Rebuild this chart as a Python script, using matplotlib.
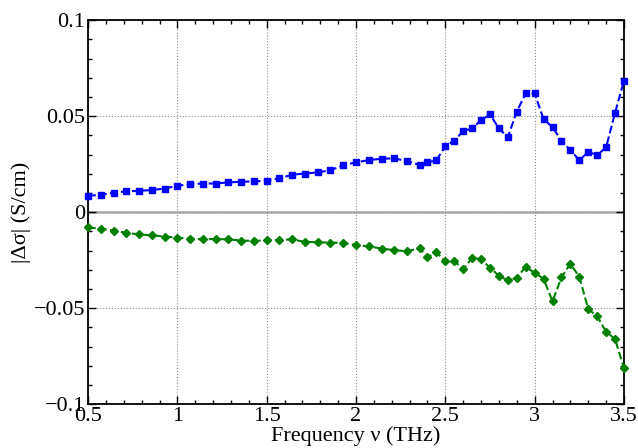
import numpy as np
import matplotlib.pyplot as plt
from matplotlib.ticker import MultipleLocator

# frequency axis (THz): coarse grid up to 2.36, then 0.05 steps
freq = [0.5, 0.571, 0.643, 0.714, 0.786, 0.857, 0.929, 1.0, 1.071, 1.143,
        1.214, 1.286, 1.357, 1.429, 1.5, 1.571, 1.643, 1.714, 1.786, 1.857,
        1.929, 2.0, 2.071, 2.143, 2.214, 2.286, 2.357,
        2.40, 2.45, 2.50, 2.55, 2.60, 2.65, 2.70, 2.75, 2.80, 2.85, 2.90,
        2.95, 3.00, 3.05, 3.10, 3.15, 3.20, 3.25, 3.30, 3.35, 3.40, 3.45, 3.50]

# positive branch (blue squares)
d_pos = [0.0085, 0.0090, 0.0101, 0.0108, 0.0111, 0.0115, 0.0123, 0.0137, 0.0146, 0.0149,
         0.0149, 0.0155, 0.0158, 0.0160, 0.0163, 0.0176, 0.0195, 0.0201, 0.0207, 0.0218,
         0.0245, 0.0259, 0.0271, 0.0278, 0.0280, 0.0266, 0.0245,
         0.0259, 0.0270, 0.0343, 0.0373, 0.0422, 0.0436, 0.0479, 0.0509, 0.0436, 0.0391,
         0.0524, 0.0618, 0.0618, 0.0484, 0.0443, 0.0371, 0.0323, 0.0271, 0.0313, 0.0298,
         0.0337, 0.0517, 0.0684]

# negative branch (green diamonds)
d_neg = [-0.0080, -0.0086, -0.0096, -0.0108, -0.0116, -0.0121, -0.0127, -0.0133, -0.0139, -0.0141,
         -0.0140, -0.0142, -0.0148, -0.0150, -0.0147, -0.0145, -0.0142, -0.0155, -0.0157, -0.0159,
         -0.0160, -0.0172, -0.0178, -0.0190, -0.0198, -0.0204, -0.0188,
         -0.0235, -0.0210, -0.0256, -0.0254, -0.0298, -0.0238, -0.0245, -0.0290, -0.0332, -0.0356,
         -0.0342, -0.0285, -0.0316, -0.0347, -0.0465, -0.0340, -0.0269, -0.0337, -0.0505, -0.0542,
         -0.0623, -0.0661, -0.0813]

plt.rcParams['font.family'] = ['Liberation Serif', 'DejaVu Serif']

fig = plt.figure(figsize=(6.38, 4.48), dpi=100)
ax = fig.add_axes([0.138, 0.098, 0.840, 0.857])

ax.axhline(0, color='#b4b4b4', lw=2, zorder=1)
ax.plot(freq, d_pos, '--s', color='#0000ff', lw=1.5, ms=4.4, clip_on=False, zorder=3)
ax.plot(freq, d_neg, '--D', color='#008000', lw=1.5, ms=4.4, clip_on=False, zorder=3)

ax.set_xlim(0.5, 3.5)
ax.set_ylim(-0.1, 0.1)
ax.xaxis.set_minor_locator(MultipleLocator(0.1))
ax.yaxis.set_minor_locator(MultipleLocator(0.01))
ax.set_xticks([0.5, 1, 1.5, 2, 2.5, 3, 3.5])
ax.set_xticklabels(['0.5', '1', '1.5', '2', '2.5', '3', '3.5'])
ax.set_yticks([-0.1, -0.05, 0, 0.05, 0.1])
ax.set_yticklabels(['\u22120.1', '\u22120.05', '0', '0.05', '0.1'])

ax.grid(True, which='major', ls=':', color='#909090', lw=0.8)
ax.tick_params(which='both', direction='in', top=True, right=True, labelsize=16, width=1)
ax.tick_params(which='major', length=6, pad=2)
ax.tick_params(which='minor', length=3)
for s in ax.spines.values():
    s.set_linewidth(1.3)

ax.set_xlabel('Frequency \u03bd (THz)', fontsize=16, labelpad=0)
ax.set_ylabel('|\u0394\u03c3| (S/cm)', fontsize=16, labelpad=2)

fig.savefig('out.png', dpi=100)
